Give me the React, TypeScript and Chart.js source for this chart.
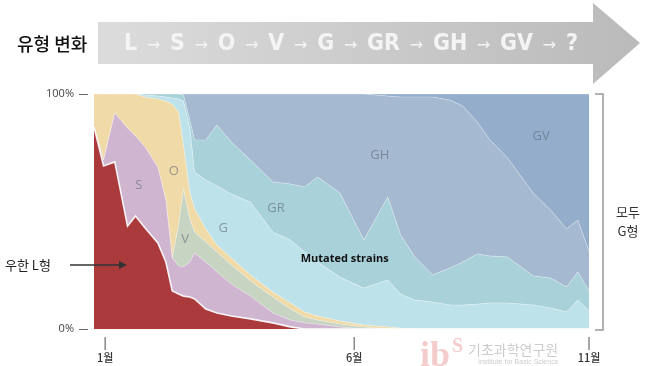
import React, { useEffect, useRef } from 'react';
import { Chart, registerables } from 'chart.js';

Chart.register(...registerables);

// x positions (days since late December)
const days = [0, 6, 13, 21, 26, 32, 40, 45, 49, 53, 56, 60, 63, 70, 77, 86, 98, 112, 123, 132, 140, 154, 169, 184, 192, 201, 212, 223, 231, 240, 248, 259, 275, 286, 296, 303, 310];

// cumulative share (%) at the top of each strain's band (stack order L, S, V, O, G, GR, GH, GV)
const topL = [86.0, 69.4, 71.1, 43.8, 48.1, 43.0, 36.6, 28.5, 16.2, 14.9, 14.0, 13.6, 12.8, 8.5, 6.8, 5.5, 4.3, 2.6, 0.9, 0, 0, 0, 0, 0, 0, 0, 0, 0, 0, 0, 0, 0, 0, 0, 0, 0, 0];
const topS = [86.0, 71.9, 91.9, 85.5, 82.1, 77.4, 68.9, 54.9, 30.2, 26.8, 26.4, 28.5, 32.3, 28.5, 24.3, 19.1, 14.0, 6.8, 3.8, 2.6, 2.1, 0.9, 0, 0, 0, 0, 0, 0, 0, 0, 0, 0, 0, 0, 0, 0, 0];
const topV = [86.0, 71.9, 91.9, 85.5, 82.1, 77.4, 68.9, 54.9, 30.2, 44.3, 59.6, 46.8, 41.3, 37.0, 32.8, 27.2, 20.4, 13.6, 8.5, 5.1, 3.8, 2.1, 0.9, 0, 0, 0, 0, 0, 0, 0, 0, 0, 0, 0, 0, 0, 0];
const topO = [100, 100, 100, 100, 100, 98.7, 97.9, 97.0, 95.7, 92.3, 78.3, 58.3, 51.1, 42.6, 35.7, 30.2, 23.0, 15.7, 11.1, 7.2, 5.5, 3.4, 1.7, 0.9, 0.4, 0, 0, 0, 0, 0, 0, 0, 0, 0, 0, 0, 0];
const topG = [100, 100, 100, 100, 100, 99.6, 99.1, 98.7, 98.3, 97.9, 97.0, 85.5, 66.8, 63.4, 60.9, 57.4, 54.0, 41.3, 37.9, 32.8, 28.5, 22.1, 17.4, 20.9, 14.9, 12.3, 11.5, 10.2, 10.2, 10.6, 11.1, 11.1, 10.2, 8.9, 7.2, 12.3, 7.7];
const topGR = [100, 100, 100, 100, 100, 100, 100, 100, 100, 100, 99.6, 88.9, 80.4, 80.4, 86.8, 79.6, 71.9, 62.6, 61.7, 60.4, 64.7, 57.9, 37.9, 56.2, 40.0, 30.6, 23.0, 26.0, 28.5, 31.9, 31.1, 30.6, 22.6, 21.7, 17.9, 24.3, 16.2];
const topGH = [100, 100, 100, 100, 100, 100, 100, 100, 100, 100, 100, 100, 100, 100, 100, 100, 100, 100, 100, 100, 100, 100, 100, 99.1, 98.7, 98.7, 98.7, 97.4, 94.9, 88.1, 80.4, 72.8, 57.9, 50.6, 42.6, 46.4, 33.2];
const topGV = [100, 100, 100, 100, 100, 100, 100, 100, 100, 100, 100, 100, 100, 100, 100, 100, 100, 100, 100, 100, 100, 100, 100, 100, 100, 100, 100, 100, 100, 100, 100, 100, 100, 100, 100, 100, 100];

const strainNames = ['L', 'S', 'V', 'O', 'G', 'GR', 'GH', 'GV'];
const strainColors = ['#AA3A3C', '#CFB5CF', '#C8D4C2', '#F0DAA8', '#BEE2EA', '#A8D1D9', '#A5B9D1', '#93ADCA'];

const flowTitle = '유형 변화';
const flowSteps = ['L', 'S', 'O', 'V', 'G', 'GR', 'GH', 'GV', '?'];

const monthLabels = ['1월', '6월', '11월'];
const monthDays = [7, 163, 310];
const yTickLabels = ['100%', '0%'];
const yTickValues = [100, 0];

const regionLabels = [
  { text: 'S', day: 28, pct: 61 },
  { text: 'O', day: 50, pct: 67 },
  { text: 'V', day: 57, pct: 38 },
  { text: 'G', day: 81, pct: 43 },
  { text: 'GR', day: 114, pct: 51.5 },
  { text: 'GH', day: 179, pct: 74 },
  { text: 'GV', day: 280, pct: 82 },
];
const mutatedLabel = { text: 'Mutated strains', day: 157, pct: 30 };

const sideNote = ['모두', 'G형'];
const wuhanNote = '우한 L형';

const KR = '"Noto Sans CJK KR", "Noto Sans", sans-serif';

const overlay = {
  id: 'overlay',
  beforeDraw(chart: any) {
    const { ctx } = chart;
    ctx.save();
    ctx.fillStyle = '#ffffff';
    ctx.fillRect(0, 0, chart.width, chart.height);
    ctx.restore();
  },
  afterDraw(chart: any) {
    const { ctx, scales } = chart;
    const xs = scales.x;
    const ys = scales.y;
    ctx.save();

    // ---- banner arrow ----
    const grad = ctx.createLinearGradient(98, 0, 640, 0);
    grad.addColorStop(0, '#dcdcdc');
    grad.addColorStop(1, '#bababa');
    ctx.fillStyle = grad;
    ctx.beginPath();
    ctx.moveTo(98, 22);
    ctx.lineTo(593, 22);
    ctx.lineTo(593, 3);
    ctx.lineTo(640, 43);
    ctx.lineTo(593, 84);
    ctx.lineTo(593, 64);
    ctx.lineTo(98, 64);
    ctx.closePath();
    ctx.fill();

    ctx.fillStyle = '#111';
    ctx.font = `500 18px ${KR}`;
    ctx.textAlign = 'left';
    ctx.textBaseline = 'middle';
    ctx.fillText(flowTitle, 17, 44);

    // flow steps
    const letterFont = 'bold 23px "Liberation Sans Narrow", "DejaVu Sans Condensed", Roboto, sans-serif';
    const arrowFont = '16px "DejaVu Sans", sans-serif';
    const tokens: { t: string; f: string; w: number; arrow: boolean }[] = [];
    flowSteps.forEach((s, i) => {
      ctx.font = letterFont;
      tokens.push({ t: s, f: letterFont, w: ctx.measureText(s).width, arrow: false });
      if (i < flowSteps.length - 1) {
        ctx.font = arrowFont;
        tokens.push({ t: '→', f: arrowFont, w: ctx.measureText('→').width, arrow: true });
      }
    });
    const startX = 124;
    const endX = 578;
    const totalW = tokens.reduce((a, b) => a + b.w, 0);
    const gap = (endX - startX - totalW) / (tokens.length - 1);
    let cx = startX;
    ctx.fillStyle = '#f4f4f4';
    tokens.forEach((tk) => {
      ctx.font = tk.f;
      ctx.fillText(tk.t, cx, tk.arrow ? 46 : 44);
      cx += tk.w + gap;
    });

    // ---- y tick labels ----
    ctx.font = '11px "Open Sans", sans-serif';
    ctx.fillStyle = '#444';
    ctx.textAlign = 'right';
    ctx.strokeStyle = '#666';
    ctx.lineWidth = 1;
    yTickLabels.forEach((lab, i) => {
      const yy = ys.getPixelForValue(yTickValues[i]);
      ctx.fillText(lab, 74, yy);
      ctx.beginPath();
      ctx.moveTo(79, Math.round(yy) + 0.5);
      ctx.lineTo(88, Math.round(yy) + 0.5);
      ctx.stroke();
    });

    // ---- x ticks ----
    ctx.strokeStyle = '#888';
    ctx.lineWidth = 1.5;
    ctx.textAlign = 'center';
    ctx.fillStyle = '#333';
    ctx.font = `500 11px ${KR}`;
    monthLabels.forEach((lab, i) => {
      const xx = xs.getPixelForValue(monthDays[i]);
      ctx.beginPath();
      ctx.moveTo(xx, 337);
      ctx.lineTo(xx, 350);
      ctx.stroke();
      ctx.fillText(lab, xx, 358);
    });

    // ---- region labels ----
    ctx.font = '13px "Open Sans", sans-serif';
    ctx.fillStyle = 'rgba(95,105,120,0.6)';
    regionLabels.forEach((r) => {
      ctx.fillText(r.text, xs.getPixelForValue(r.day), ys.getPixelForValue(r.pct));
    });
    ctx.font = 'bold 11px "Open Sans", sans-serif';
    ctx.fillStyle = '#111';
    ctx.fillText(mutatedLabel.text, xs.getPixelForValue(mutatedLabel.day), ys.getPixelForValue(mutatedLabel.pct));

    // ---- right bracket ----
    ctx.strokeStyle = '#999';
    ctx.lineWidth = 1.5;
    ctx.beginPath();
    ctx.moveTo(595, ys.getPixelForValue(100));
    ctx.lineTo(603, ys.getPixelForValue(100));
    ctx.lineTo(603, ys.getPixelForValue(0) + 1);
    ctx.lineTo(595, ys.getPixelForValue(0) + 1);
    ctx.stroke();
    ctx.fillStyle = '#333';
    ctx.font = `13px ${KR}`;
    ctx.fillText(sideNote[0], 628, 212);
    ctx.fillText(sideNote[1], 628, 231);

    // ---- Wuhan L annotation ----
    ctx.textAlign = 'left';
    ctx.fillStyle = '#222';
    ctx.font = `13px ${KR}`;
    ctx.fillText(wuhanNote, 5, 265);
    ctx.strokeStyle = '#333';
    ctx.lineWidth = 1.6;
    ctx.beginPath();
    ctx.moveTo(70, 265);
    ctx.lineTo(120, 265);
    ctx.stroke();
    ctx.fillStyle = '#333';
    ctx.beginPath();
    ctx.moveTo(127, 265);
    ctx.lineTo(119, 261);
    ctx.lineTo(119, 269);
    ctx.closePath();
    ctx.fill();

    // ---- watermark ----
    ctx.textBaseline = 'alphabetic';
    ctx.fillStyle = 'rgba(225,110,110,0.35)';
    ctx.font = 'bold 36px "Liberation Serif", serif';
    ctx.fillText('ib', 420, 366);
    ctx.font = 'bold 20px "Liberation Serif", serif';
    ctx.fillText('S', 452, 352);
    ctx.fillStyle = 'rgba(140,140,140,0.45)';
    ctx.font = `14px ${KR}`;
    ctx.fillText('기초과학연구원', 468, 355);
    ctx.font = '7px "Liberation Sans", sans-serif';
    ctx.fillText('Institute for Basic Science', 478, 364);

    ctx.restore();
  },
};

export default function App() {
  const ref = useRef<HTMLCanvasElement | null>(null);
  useEffect(() => {
    document.body.style.margin = '0';
    const tops = [topL, topS, topV, topO, topG, topGR, topGH, topGV];
    const datasets = tops.map((arr, i) => ({
      label: strainNames[i],
      data: arr.map((v, j) => ({ x: days[j], y: v })),
      backgroundColor: strainColors[i],
      borderColor: i === 0 ? 'rgba(255,255,255,0.9)' : 'rgba(255,255,255,0.3)',
      borderWidth: i === 0 ? 1.6 : 1,
      fill: i === 0 ? 'origin' : '-1',
      pointRadius: 0,
      tension: 0,
    }));
    const chart = new Chart(ref.current as HTMLCanvasElement, {
      type: 'line',
      data: { datasets },
      options: {
        animation: false,
        responsive: false,
        devicePixelRatio: 1,
        layout: { padding: { left: 94, right: 61, top: 94, bottom: 37 } },
        plugins: { legend: { display: false }, tooltip: { enabled: false } },
        scales: {
          x: { type: 'linear', min: 0, max: 310, display: false },
          y: { min: 0, max: 100, display: false },
        },
      },
      plugins: [overlay],
    } as any);
    return () => chart.destroy();
  }, []);
  return (
    <div style={{ width: 650, height: 366 }}>
      <canvas ref={ref} width={650} height={366} style={{ display: 'block' }} />
    </div>
  );
}
